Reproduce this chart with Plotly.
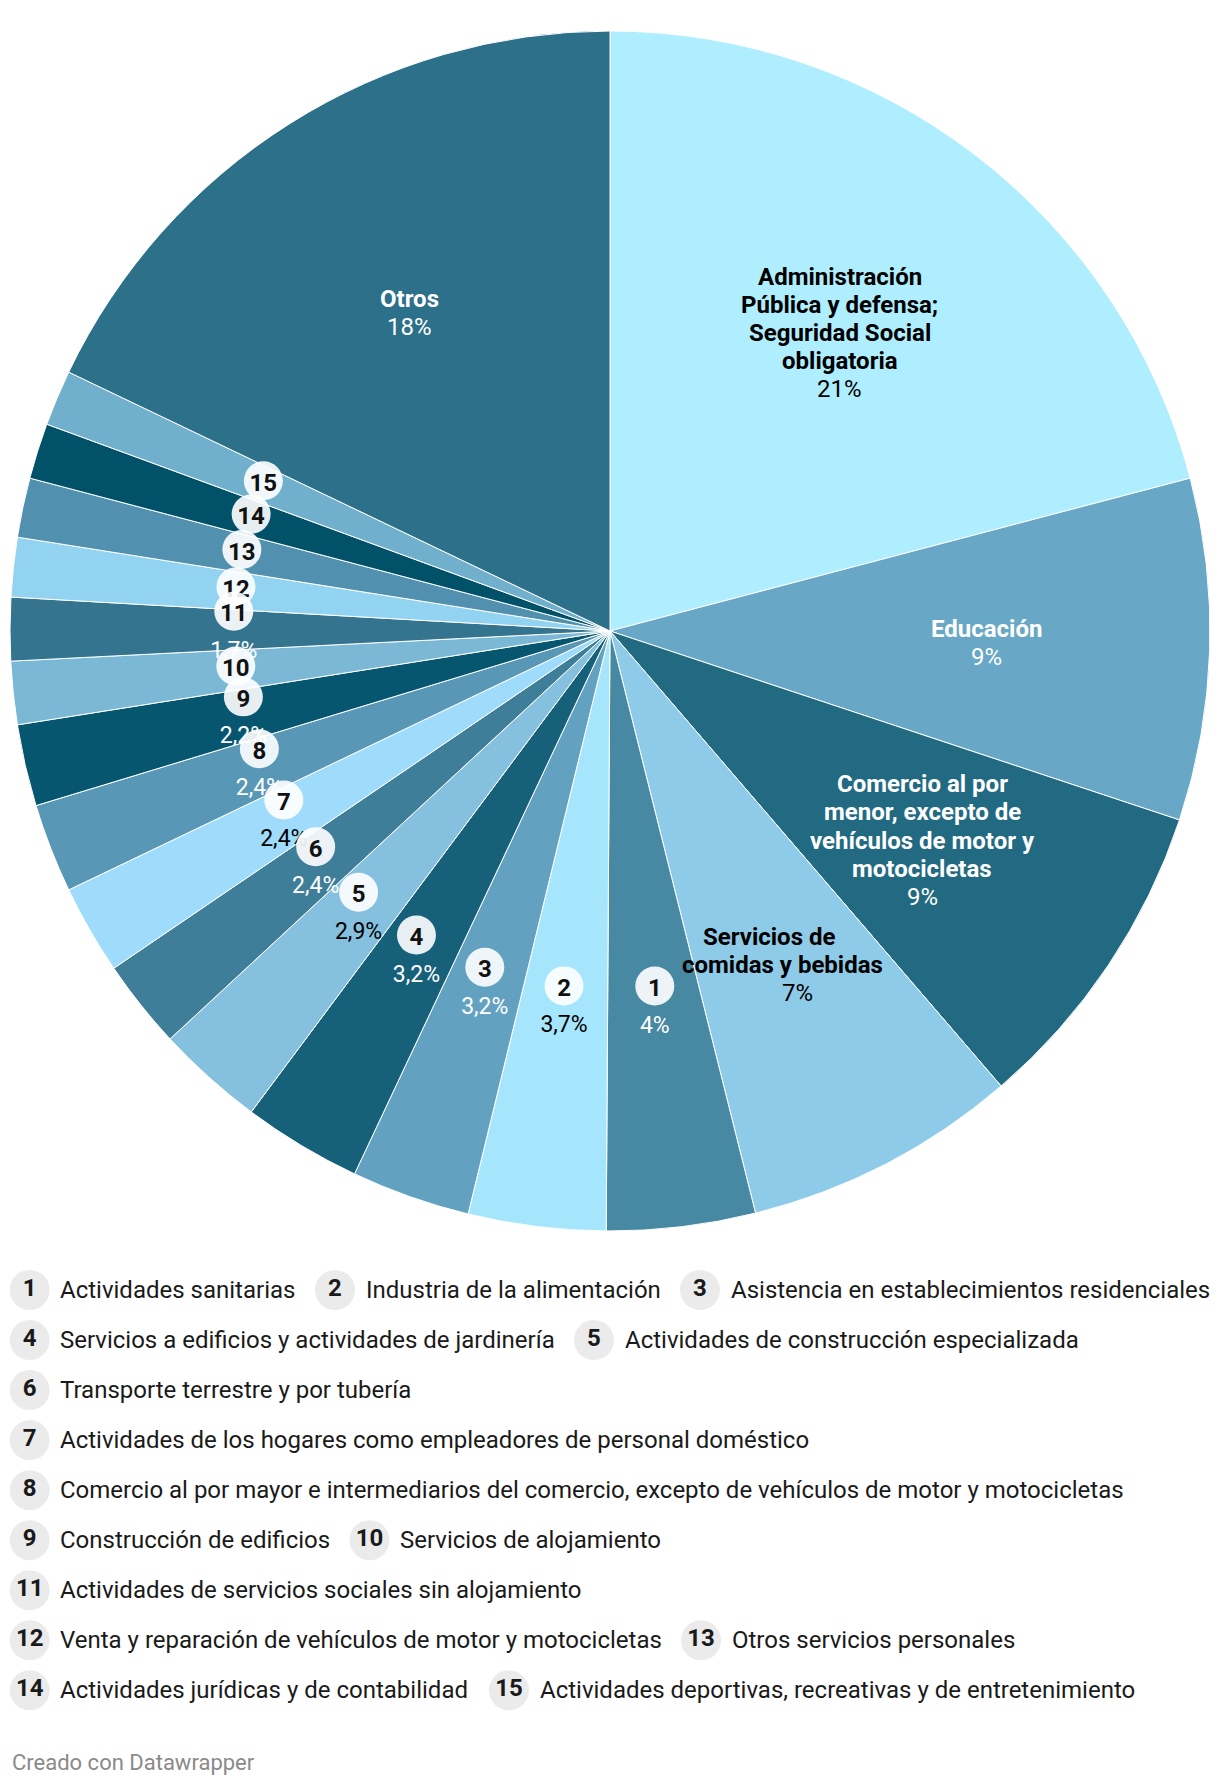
import math
import plotly.graph_objects as go

# ---------------- data ----------------
categories = [
    "Administración Pública y defensa; Seguridad Social obligatoria",
    "Educación",
    "Comercio al por menor, excepto de vehículos de motor y motocicletas",
    "Servicios de comidas y bebidas",
    "Actividades sanitarias",
    "Industria de la alimentación",
    "Asistencia en establecimientos residenciales",
    "Servicios a edificios y actividades de jardinería",
    "Actividades de construcción especializada",
    "Transporte terrestre y por tubería",
    "Actividades de los hogares como empleadores de personal doméstico",
    "Comercio al por mayor e intermediarios del comercio, excepto de vehículos de motor y motocicletas",
    "Construcción de edificios",
    "Servicios de alojamiento",
    "Actividades de servicios sociales sin alojamiento",
    "Venta y reparación de vehículos de motor y motocicletas",
    "Otros servicios personales",
    "Actividades jurídicas y de contabilidad",
    "Actividades deportivas, recreativas y de entretenimiento",
    "Otros",
]
values = [20.9, 9.2, 8.6, 7.4, 4.0, 3.7, 3.2, 3.2, 2.9, 2.4, 2.4, 2.4, 2.2, 1.7, 1.7, 1.6, 1.6, 1.5, 1.5, 17.9]
value_labels = ["21%", "9%", "9%", "7%", "4%", "3,7%", "3,2%", "3,2%", "2,9%", "2,4%", "2,4%",
                "2,4%", "2,2%", "1,7%", "1,7%", "1,6%", "1,6%", "1,5%", "1,5%", "18%"]
badge_ids = [None, None, None, None, 1, 2, 3, 4, 5, 6, 7, 8, 9, 10, 11, 12, 13, 14, 15, None]
inline_names = [
    "Administración<br>Pública y defensa;<br>Seguridad Social<br>obligatoria",
    "Educación",
    "Comercio al por<br>menor, excepto de<br>vehículos de motor y<br>motocicletas",
    "Servicios de<br>comidas y bebidas",
] + [None] * 15 + ["Otros"]
hidden_value_ids = [10, 12, 13, 14, 15]
footer_text = "Creado con Datawrapper"

# ---------------- style / layout ----------------
colors = [
    "#aeeefe", "#68a8c6", "#226a82", "#8ecbe8",
    "#4788a3", "#a5e6fd", "#62a2c0", "#17607a", "#85c1df",
    "#3f7e99", "#9fdcfb", "#5897b5", "#07566f", "#7bb8d6",
    "#34748f", "#93d3f2", "#5191af", "#015169", "#71b0cd",
    "#2c7089",
]
W, H = 1220, 1786
CX, CY, R = 610, 631, 600
LABEL_R = 0.627 * R
LINE_H = 28.2
FONT = "Roboto"
label_line_shift = {3: 14.2}   # per-line horizontal drift of the inline label

legend_rows = [[1, 2, 3], [4, 5], [6], [7], [8], [9, 10], [11], [12, 13], [14, 15]]
legend_badge_x = {1: 29.7, 2: 335, 3: 700, 4: 29.7, 5: 594, 6: 29.7, 7: 29.7,
                  8: 29.7, 9: 29.7, 10: 369.5, 11: 29.7, 12: 29.7, 13: 701,
                  14: 29.7, 15: 509}
LEGEND_Y0, LEGEND_DY = 1290, 50.04


def luminance(hexc):
    h = hexc.lstrip("#")
    rgb = [int(h[i:i + 2], 16) / 255 for i in (0, 2, 4)]
    lin = [c / 12.92 if c <= 0.04045 else ((c + 0.055) / 1.055) ** 2.4 for c in rgb]
    return 0.2126 * lin[0] + 0.7152 * lin[1] + 0.0722 * lin[2]


def text_color(hexc):
    return "#000000" if luminance(hexc) > 0.42 else "#ffffff"


fig = go.Figure()

fig.add_trace(go.Pie(
    values=values, labels=categories, sort=False, direction="clockwise", rotation=0,
    marker=dict(colors=colors, line=dict(color="white", width=1)),
    textinfo="none", hoverinfo="skip", showlegend=False,
    domain=dict(x=[(CX - R) / W, (CX + R) / W], y=[1 - (CY + R) / H, 1 - (CY - R) / H]),
))

total = sum(values)
cum = 0
annotations = []
value_shapes = []
badge_shapes = []
for i, v in enumerate(values):
    t = math.radians(360 * (cum + v / 2) / total)
    cum += v
    px = CX + LABEL_R * math.sin(t)
    py = CY - LABEL_R * math.cos(t)
    tc = text_color(colors[i])
    bid = badge_ids[i]
    if bid is None:
        name_lines = inline_names[i].split("<br>")
        lines = [f"<b>{ln}</b>" for ln in name_lines] + [value_labels[i]]
        n = len(lines)
        shift = label_line_shift.get(i, 0)
        for k, ln in enumerate(lines):
            annotations.append(dict(
                x=px + (k - (n - 1) / 2) * shift, y=py + (k - (n - 1) / 2) * LINE_H,
                xref="x", yref="y",
                text=ln, showarrow=False, xanchor="center", yanchor="middle",
                font=dict(family=FONT, size=24, color=tc)))
    else:
        show_val = bid not in hidden_value_ids
        by = py - 18.5 if show_val else py - 4
        if show_val:
            vy = py + 18.5
            value_shapes.append(dict(
                type="rect", xref="x", yref="y", x0=px - 35, x1=px + 35, y0=vy - 14, y1=vy + 14,
                line=dict(width=0), fillcolor="rgba(0,0,0,0)", layer="above",
                label=dict(text=value_labels[i], textposition="middle center", padding=0,
                           font=dict(family=FONT, size=23, color=tc))))
        badge_shapes.append((bid, dict(
            type="circle", xref="x", yref="y", x0=px - 19.5, x1=px + 19.5, y0=by - 19.5, y1=by + 19.5,
            line=dict(width=0), fillcolor="rgba(255,255,255,0.9)", layer="above",
            label=dict(text=f"<b>{bid}</b>", textposition="middle center", padding=0,
                       font=dict(family=FONT, size=24, color="#111111")))))

badge_shapes.sort(key=lambda b: -b[0])
shapes = value_shapes + [b[1] for b in badge_shapes]

# legend
lx, ly, lt = [], [], []
for r, row in enumerate(legend_rows):
    y = LEGEND_Y0 + r * LEGEND_DY
    for bid in row:
        x = legend_badge_x[bid]
        lx.append(x)
        ly.append(y)
        lt.append(f"<b>{bid}</b>")
        idx = badge_ids.index(bid)
        annotations.append(dict(
            x=x + 28.5, y=y, xref="x", yref="y", text=categories[idx], showarrow=False,
            xanchor="left", yanchor="middle",
            font=dict(family=FONT, size=24, color="#1a1a1a")))

fig.add_trace(go.Scatter(
    x=lx, y=ly, mode="markers+text", text=lt, textposition="middle center",
    marker=dict(size=40, color="#ebebeb", line=dict(width=0)),
    textfont=dict(family=FONT, size=24, color="#1a1a1a"),
    hoverinfo="skip", showlegend=False, cliponaxis=False))

annotations.append(dict(
    x=10, y=1762, xref="x", yref="y", text=footer_text, showarrow=False,
    xanchor="left", yanchor="middle", font=dict(family=FONT, size=22, color="#8a8a8a")))

fig.update_layout(
    width=W, height=H, margin=dict(l=0, r=0, t=0, b=0),
    paper_bgcolor="white", plot_bgcolor="white",
    xaxis=dict(range=[0, W], visible=False, fixedrange=True),
    yaxis=dict(range=[H, 0], visible=False, fixedrange=True),
    shapes=shapes, annotations=annotations, showlegend=False,
    font=dict(family=FONT),
)

fig.write_html("out.html", config={"displayModeBar": False},
               post_script="document.body.style.margin='0';")
